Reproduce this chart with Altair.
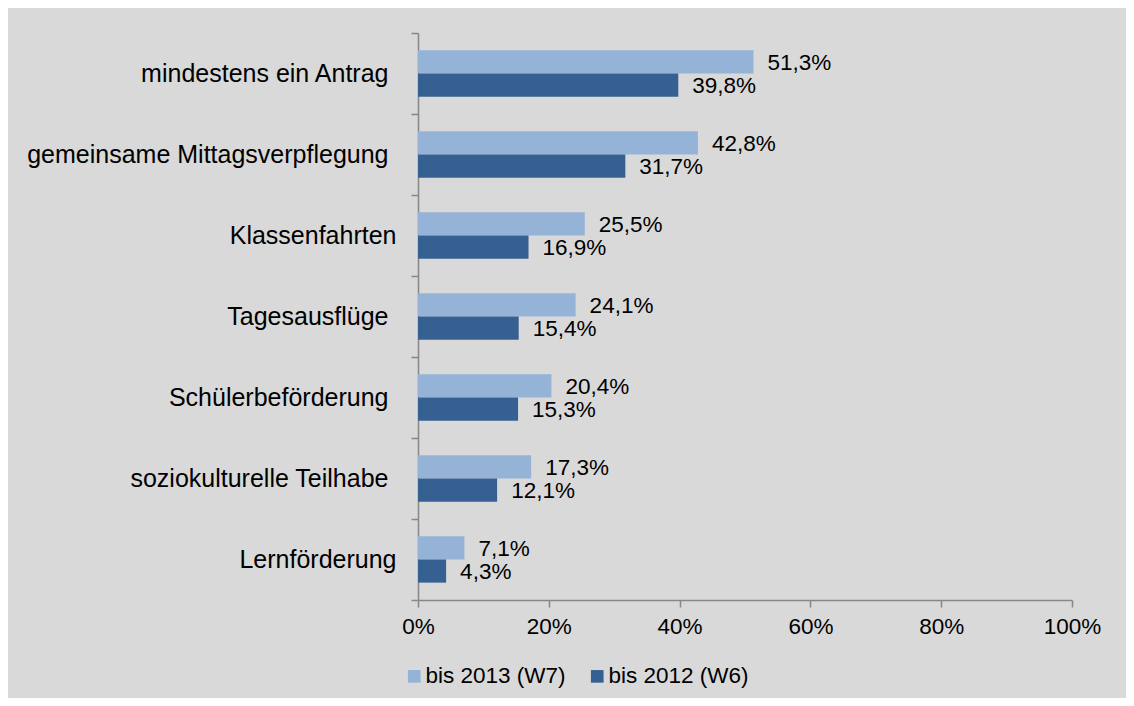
import altair as alt
import pandas as pd

categories = [
    "mindestens ein Antrag",
    "gemeinsame Mittagsverpflegung",
    "Klassenfahrten",
    "Tagesausflüge",
    "Schülerbeförderung",
    "soziokulturelle Teilhabe",
    "Lernförderung",
]
no_trailing_space = ["Klassenfahrten", "Lernförderung"]
series = ["bis 2013 (W7)", "bis 2012 (W6)"]
w7 = [51.3, 42.8, 25.5, 24.1, 20.4, 17.3, 7.1]
w6 = [39.8, 31.7, 16.9, 15.4, 15.3, 12.1, 4.3]
colors = ["#95b3d7", "#376092"]
x_ticks = [0, 20, 40, 60, 80, 100]

rows = []
for c, a, b in zip(categories, w7, w6):
    for s, v in zip(series, (a, b)):
        rows.append({"cat": c, "series": s, "value": v,
                     "label": f"{v:.1f}".replace(".", ",") + "%"})
df = pd.DataFrame(rows)

FONT = "Liberation Sans"
AX = "#878787"

pad_test = " || ".join(f"datum.value == '{c}'" for c in no_trailing_space)

y_enc = alt.Y("cat:N", sort=categories, title=None,
              scale=alt.Scale(paddingInner=0, paddingOuter=0),
              axis=alt.Axis(tickBand="extent", labelFontSize=25, labelColor="black",
                            labelPadding={"condition": {"test": pad_test, "value": 15},
                                          "value": 23},
                            labelLimit=0, tickSize=7, tickColor=AX,
                            domainColor=AX, domainWidth=1.5, tickWidth=1.5, labelFont=FONT))
yoff = alt.YOffset("series:N", sort=series,
                   scale=alt.Scale(paddingInner=0, paddingOuter=0.75))
x_enc = alt.X("value:Q", title=None,
              scale=alt.Scale(domain=[0, 100], nice=False),
              axis=alt.Axis(values=x_ticks, labelExpr="datum.value + '%'", grid=False,
                            labelFlush=False, labelFontSize=22.5, labelColor="black",
                            labelPadding=8, tickSize=7, tickColor=AX, domainColor=AX,
                            domainWidth=1.5, tickWidth=1.5, labelFont=FONT))

bars = alt.Chart(df).mark_bar().encode(
    y=y_enc, yOffset=yoff, x=x_enc,
    color=alt.Color("series:N", sort=series,
                    scale=alt.Scale(domain=series, range=colors),
                    legend=alt.Legend(title=None, orient="none", direction="horizontal",
                                      legendX=-15, legendY=632, symbolType="square",
                                      symbolSize=160, symbolStrokeWidth=0, symbolOpacity=1,
                                      labelFontSize=22.5, labelColor="black", labelFont=FONT,
                                      labelOffset=0, columnPadding=20, padding=0)),
)

labels = alt.Chart(df).mark_text(align="left", baseline="middle", dx=14, dy=1,
                                 fontSize=22.5, font=FONT, color="black").encode(
    y=alt.Y("cat:N", sort=categories), yOffset=alt.YOffset("series:N", sort=series),
    x="value:Q", text="label:N",
)

chart = (bars + labels).properties(
    width=654, height=567,
    padding={"left": 410, "top": 25, "right": 54, "bottom": 98},
    autosize=alt.AutoSizeParams(type="none"),
    background="#d9d9d9",
).configure(font=FONT).configure_view(stroke=None)

chart.save("out.html", embed_options={"renderer": "svg", "actions": False})
